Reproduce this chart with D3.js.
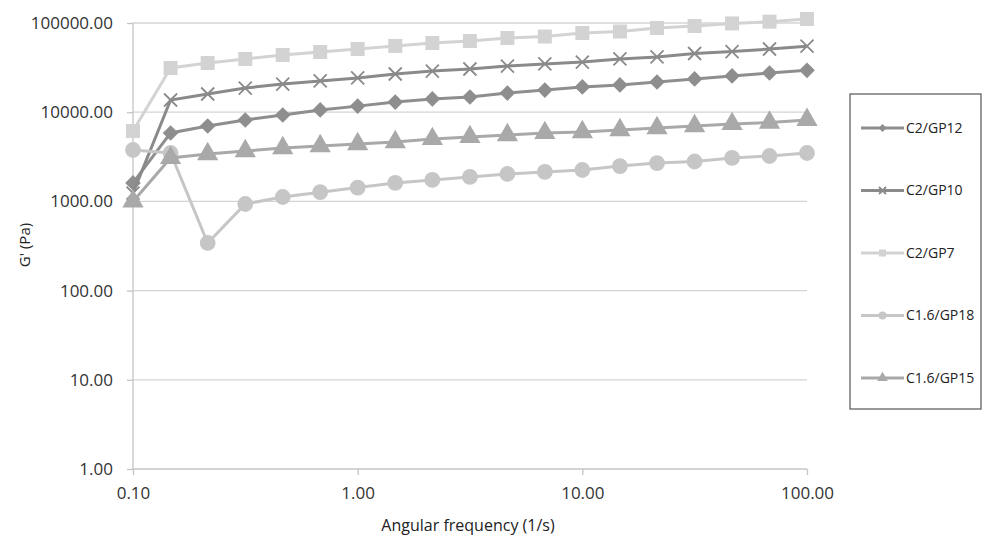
<!DOCTYPE html>
<html>
<head>
<meta charset="utf-8">
<script src="https://cdnjs.cloudflare.com/ajax/libs/d3/7.8.5/d3.min.js"></script>
<style>
  body { margin: 0; background: #fff; }
  text { font-family: "Open Sans", "Liberation Sans", sans-serif; }
</style>
</head>
<body>
<script>
// Data
const freq = [0.1, 0.147, 0.215, 0.316, 0.464, 0.681, 1, 1.47, 2.15, 3.16, 4.64, 6.81,
  10, 14.7, 21.5, 31.6, 46.4, 68.1, 100];
const gp12 = [1610, 5850, 7000, 8180, 9300, 10600, 11700, 13000, 14100, 14800, 16400, 17700,
  19200, 20200, 21800, 23600, 25500, 27500, 29500];
const gp10 = [1240, 13700, 16000, 18650, 20700, 22400, 24200, 26800, 28900, 30500, 32900, 34800,
  36500, 39500, 41600, 45500, 47800, 51100, 55000];
const gp7 = [6150, 31300, 35600, 39500, 43800, 47300, 51100, 55300, 59700, 62800, 67900, 70500,
  77300, 80300, 87900, 92500, 99000, 103500, 110900];
const gp18 = [3770, 3490, 342, 935, 1120, 1270, 1430, 1610, 1740, 1880, 2030, 2140,
  2250, 2490, 2690, 2800, 3070, 3230, 3490];
const gp15 = [1000, 3070, 3400, 3670, 3970, 4180, 4400, 4630, 5010, 5280, 5550, 5850,
  6000, 6310, 6650, 7000, 7380, 7650, 8200];
const seriesNames = ['C2/GP12', 'C2/GP10', 'C2/GP7', 'C1.6/GP18', 'C1.6/GP15'];
const xTicks = [0.1, 1, 10, 100];
const yTicks = [1, 10, 100, 1000, 10000, 100000];

const series = [
  { name: seriesNames[0], values: gp12, color: '#8e8e8e', symbol: 'diamond' },
  { name: seriesNames[1], values: gp10, color: '#8a8a8a', symbol: 'cross' },
  { name: seriesNames[2], values: gp7, color: '#d3d3d3', symbol: 'square' },
  { name: seriesNames[3], values: gp18, color: '#c6c6c6', symbol: 'circle' },
  { name: seriesNames[4], values: gp15, color: '#a9a9a9', symbol: 'triangle' }
];

const width = 984;
const height = 540;

const svg = d3.select('body')
.append('svg')
.attr('width', width)
.attr('height', height);

const xScale = d3.scaleLog().domain([0.1, 100]).range([133, 807]);
const yScale = d3.scaleLog().domain([1, 100000]).range([469, 23]);

// grid
svg.append('g')
.selectAll('line')
.data(yTicks.slice(1))
.enter()
.append('line')
.attr('x1', xScale(0.1))
.attr('x2', xScale(100))
.attr('y1', d => yScale(d))
.attr('y2', d => yScale(d))
.attr('stroke', '#d4d4d4')
.attr('stroke-width', 1.3);

// axes
const fmt = d3.format('.2f');
const yAxis = svg.append('g')
.attr('transform', `translate(${xScale(0.1)},0)`)
.call(d3.axisLeft(yScale).tickValues(yTicks).tickFormat(fmt).tickSize(6).tickPadding(14));

const xAxis = svg.append('g')
.attr('transform', `translate(0,${yScale(1)})`)
.call(d3.axisBottom(xScale).tickValues(xTicks).tickFormat(fmt).tickSize(6).tickPadding(12));

[xAxis, yAxis].forEach(ax => {
  ax.selectAll('path, line').attr('stroke', '#c4c4c4').attr('stroke-width', 1.3);
  ax.selectAll('text').attr('fill', '#333').attr('font-size', '17px');
});
xAxis.select('.domain').attr('d', `M${xScale(0.1)},0H${xScale(100)}`);
yAxis.select('.domain').attr('d', `M0,${yScale(1)}V${yScale(100000)}`);

// axis titles
svg.append('text')
.attr('x', 468)
.attr('y', 531)
.attr('text-anchor', 'middle')
.attr('font-size', '16px')
.attr('fill', '#222')
.text('Angular frequency (1/s)');

svg.append('text')
.attr('transform', 'translate(30,245) rotate(-90)')
.attr('text-anchor', 'middle')
.attr('font-size', '15px')
.attr('fill', '#222')
.text("G' (Pa)");

function drawMarker(g, symbol, color, size) {
  if (symbol === 'cross') {
    const r = size / 2;
    g.append('path')
    .attr('d', `M${-r},${-r}L${r},${r}M${-r},${r}L${r},${-r}`)
    .attr('stroke', color)
    .attr('stroke-width', 1.8)
    .attr('fill', 'none');
    return;
  }
  const types = { diamond: d3.symbolDiamond2, square: d3.symbolSquare, circle: d3.symbolCircle, triangle: d3.symbolTriangle };
  const areas = { diamond: 0.8, square: 1, circle: 1, triangle: 1 };
  g.append('path')
  .attr('d', d3.symbol().type(types[symbol]).size(size * size * areas[symbol])())
  .attr('fill', color);
}

const line = d3.line()
.x(d => xScale(d[0]))
.y(d => yScale(d[1]));

series.forEach(s => {
  const pts = freq.map((f, i) => [f, s.values[i]]);
  const g = svg.append('g');
  g.append('path')
  .datum(pts)
  .attr('d', line)
  .attr('fill', 'none')
  .attr('stroke', s.color)
  .attr('stroke-width', 3);
  g.selectAll('g.pt')
  .data(pts)
  .enter()
  .append('g')
  .attr('class', 'pt')
  .attr('transform', d => `translate(${xScale(d[0])},${yScale(d[1])})`)
  .each(function () { drawMarker(d3.select(this), s.symbol, s.color, s.symbol === 'cross' ? 13 : 14); });
});

// legend
const legend = svg.append('g');
legend.append('rect')
.attr('x', 850)
.attr('y', 94)
.attr('width', 131)
.attr('height', 315)
.attr('fill', '#fff')
.attr('stroke', '#555')
.attr('stroke-width', 1.2);

const legendY = d3.scaleLinear().domain([0, 4]).range([128, 378]);
series.forEach((s, i) => {
  const y = legendY(i);
  legend.append('line')
  .attr('x1', 861).attr('x2', 904)
  .attr('y1', y).attr('y2', y)
  .attr('stroke', s.color)
  .attr('stroke-width', 3);
  const mg = legend.append('g').attr('transform', `translate(882.5,${y})`);
  drawMarker(mg, s.symbol, s.color, 7);
  legend.append('text')
  .attr('x', 906)
  .attr('y', y)
  .attr('dy', '0.35em')
  .attr('font-size', '14px')
  .attr('fill', '#222')
  .text(s.name);
});
</script>
</body>
</html>
